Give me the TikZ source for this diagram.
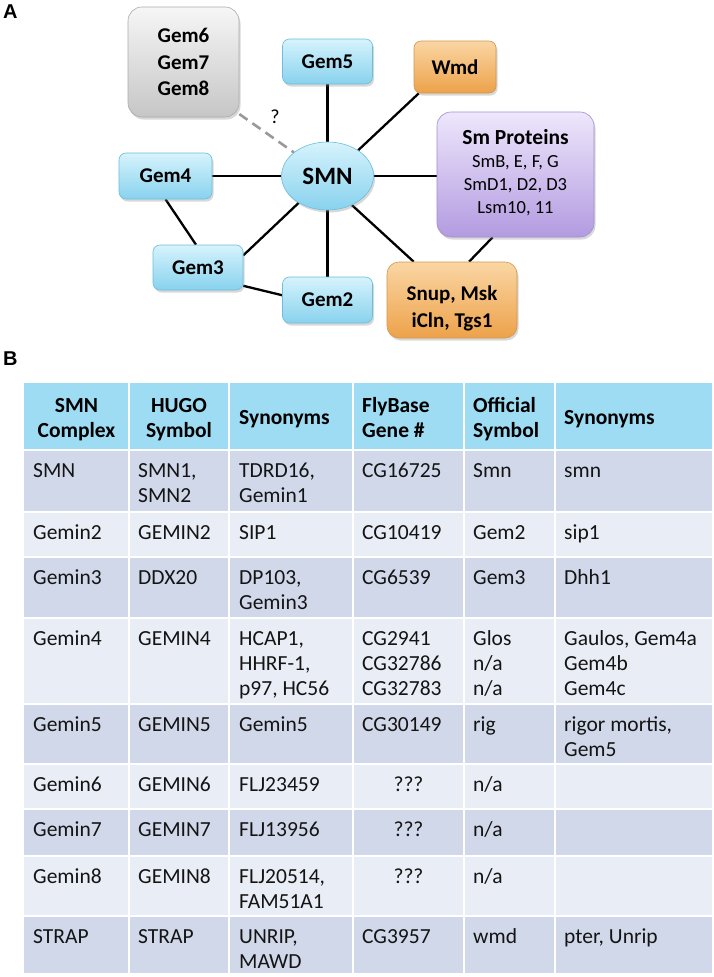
\documentclass[tikz,border=0pt]{standalone}
\usepackage{fontspec}
\setmainfont{Carlito}
\newfontfamily\labfont{Liberation Sans}
\usetikzlibrary{shapes.geometric,shadows,backgrounds}
\definecolor{cyT}{HTML}{D6F3FC}
\definecolor{cyB}{HTML}{88D2EE}
\definecolor{cyD}{HTML}{6CBEDC}
\definecolor{grT}{HTML}{F6F6F6}
\definecolor{grB}{HTML}{C6C6C6}
\definecolor{grD}{HTML}{ABABAB}
\definecolor{orT}{HTML}{FAD6A4}
\definecolor{orB}{HTML}{EDA24A}
\definecolor{orD}{HTML}{D3964C}
\definecolor{ppT}{HTML}{EEE7FC}
\definecolor{ppB}{HTML}{B39BE0}
\definecolor{ppD}{HTML}{A28DCF}
\definecolor{hdr}{HTML}{9DDCF3}
\definecolor{rowD}{HTML}{D0D8E9}
\definecolor{rowL}{HTML}{E9EDF5}
\definecolor{txt}{HTML}{141414}
\newcommand\tcl[1]{\begin{tabular}[t]{@{}l@{}}#1\end{tabular}}
\newcommand\tcc[1]{\begin{tabular}[t]{@{}c@{}}#1\end{tabular}}
\newcommand\tabrow[8]{%
  \node[cell] (r#1c1) at (33,#2) {\tcl{#3}};
  \node[cell] (r#1c2) at (138,#2) {\tcl{#4}};
  \node[cell] (r#1c3) at (239,#2) {\tcl{#5}};
  \node[cell] (r#1c4) at (362,#2) {\tcl{#6}};
  \node[cell] (r#1c5) at (473,#2) {\tcl{#7}};
  \node[cell] (r#1c6) at (564,#2) {\tcl{#8}};
}
\begin{document}
\begin{tikzpicture}[x=1pt,y=-1pt,
  box/.style={rounded corners=7, inner sep=0, align=center, text=black,
    font=\fontsize{21}{26.7}\selectfont\bfseries,
    drop shadow={shadow xshift=1.5pt,shadow yshift=-2.5pt,opacity=0.3}},
  cybox/.style={box, draw=cyD, line width=0.6, top color=cyT, bottom color=cyB},
  cyell/.style={cybox, ellipse, rounded corners=0},
  grbox/.style={box, draw=grD, line width=0.6, top color=grT, bottom color=grB},
  orbox/.style={box, draw=orD, line width=0.6, top color=orT, bottom color=orB},
  ppbox/.style={box, draw=ppD, line width=0.6, top color=ppT, bottom color=ppB},
  boxtxt/.style={inner sep=0, align=center, text=black, font=\fontsize{21}{27}\selectfont\bfseries},
  conn/.style={line width=2.3, black},
  dashq/.style={line width=2.6, color=black!40, dash pattern=on 10pt off 6pt},
  panel/.style={inner sep=0, anchor=base west, font=\labfont\fontsize{20}{22}\selectfont\bfseries},
  cell/.style={inner sep=0, anchor=base west, text=txt, font=\fontsize{21.5}{25}\selectfont},
  hd/.style={inner sep=0, text=black, font=\fontsize{21.5}{25}\selectfont\bfseries}
]
\useasboundingbox (0,0) rectangle (714,977);
\begin{scope}[on background layer]
  \fill[white] (0,0) rectangle (714,977);
\end{scope}

% panel labels
\node[panel] (labA) at (3,19) {A};
\node[panel] (labB) at (3,365) {B};

% ---------- Panel A ----------
\node[grbox, minimum width=111, minimum height=110, rounded corners=14] (g678) at (183.5,62) {Gem6\\Gem7\\Gem8};
\node[cybox, minimum width=90, minimum height=45] (gem5) at (327.5,61.5) {Gem5};
\node[cyell, minimum width=92, minimum height=68, font=\fontsize{25}{28}\selectfont\bfseries] (smn) at (327.5,176) {SMN};
\node[cybox, minimum width=93, minimum height=46] (gem4) at (165.5,176) {Gem4};
\node[cybox, minimum width=90, minimum height=45] (gem3) at (198,267.5) {Gem3};
\node[cybox, minimum width=90, minimum height=46] (gem2) at (327.5,300) {Gem2};
\node[orbox, minimum width=82, minimum height=52] (wmd) at (455,67) {Wmd};
\node[ppbox, minimum width=157, minimum height=125, rounded corners=14,
      font=\fontsize{18.5}{22.8}\selectfont] (sm) at (515.5,174.5)
  {\tcc{{\fontsize{21.5}{24}\selectfont\bfseries Sm Proteins}\\SmB, E, F, G\\SmD1, D2, D3\\Lsm10, 11}};
\node[orbox, minimum width=130, minimum height=76, rounded corners=12] (snup) at (452,300) {};
\node[boxtxt] (snuptxt) at (452,308.5) {Snup, Msk\\iCln, Tgs1};
\node[inner sep=0, font=\fontsize{20}{22}\selectfont] (qmark) at (275,117) {?};

\begin{scope}[on background layer]
  \draw[dashq] (g678.-43) -- (smn.145);
  \draw[conn] (smn) -- (gem5);
  \draw[conn] (smn) -- (gem2);
  \draw[conn] (smn) -- (gem4);
  \draw[conn] (smn.east) -- (smn.east -| sm.west);
  \draw[conn] (smn.40) -- (wmd.216);
  \draw[conn] (smn.-50) -- (snup.135);
  \draw[conn] (sm.250) -- (snup.66);
  \draw[conn] (smn.223) -- (gem3.15);
  \draw[conn] (gem4.south) -- (gem3.95);
  \draw[conn] (gem3.-22) -- (gem2.174);
\end{scope}

% ---------- Panel B ----------
\fill[hdr] (24,383) rectangle (712,449);
\foreach \t/\b/\c in {451/511/rowD, 513/556/rowL, 558/617/rowD, 619/703/rowL,
                      705/763/rowD, 765/808/rowL, 810/855/rowD, 857/915/rowL, 917/973/rowD}
  \fill[\c] (24,\t) rectangle (712,\b);
\foreach \x in {129,229,353,464,555}
  \draw[white, line width=2] (\x,382) -- (\x,974);

\node[hd, anchor=base] (h1) at (76.5,412) {\tcc{SMN\\Complex}};
\node[hd, anchor=base] (h2) at (179,412) {\tcc{HUGO\\Symbol}};
\node[hd, anchor=base west] (h3) at (239,424) {Synonyms};
\node[hd, anchor=base west] (h4) at (362,412) {\tcl{FlyBase\\Gene \#}};
\node[hd, anchor=base west] (h5) at (473,412) {\tcl{Official\\Symbol}};
\node[hd, anchor=base west] (h6) at (564,424) {Synonyms};

\tabrow{1}{477}{SMN}{SMN1,\\SMN2}{TDRD16,\\Gemin1}{CG16725}{Smn}{smn}
\tabrow{2}{539}{Gemin2}{GEMIN2}{SIP1}{CG10419}{Gem2}{sip1}
\tabrow{3}{584}{Gemin3}{DDX20}{DP103,\\Gemin3}{CG6539}{Gem3}{Dhh1}
\tabrow{4}{645}{Gemin4}{GEMIN4}{HCAP1,\\HHRF-1,\\p97, HC56}{CG2941\\CG32786\\CG32783}{Glos\\n/a\\n/a}{Gaulos, Gem4a\\Gem4b\\Gem4c}
\tabrow{5}{731}{Gemin5}{GEMIN5}{Gemin5}{CG30149}{rig}{rigor mortis,\\Gem5}
\tabrow{6}{791}{Gemin6}{GEMIN6}{FLJ23459}{}{n/a}{}
\tabrow{7}{836}{Gemin7}{GEMIN7}{FLJ13956}{}{n/a}{}
\tabrow{8}{883}{Gemin8}{GEMIN8}{FLJ20514,\\FAM51A1}{}{n/a}{}
\tabrow{9}{943}{STRAP}{STRAP}{UNRIP,\\MAWD}{CG3957}{wmd}{pter, Unrip}
\node[cell, anchor=base] (q6) at (408.5,791) {???};
\node[cell, anchor=base] (q7) at (408.5,836) {???};
\node[cell, anchor=base] (q8) at (408.5,883) {???};
\end{tikzpicture}
\end{document}
